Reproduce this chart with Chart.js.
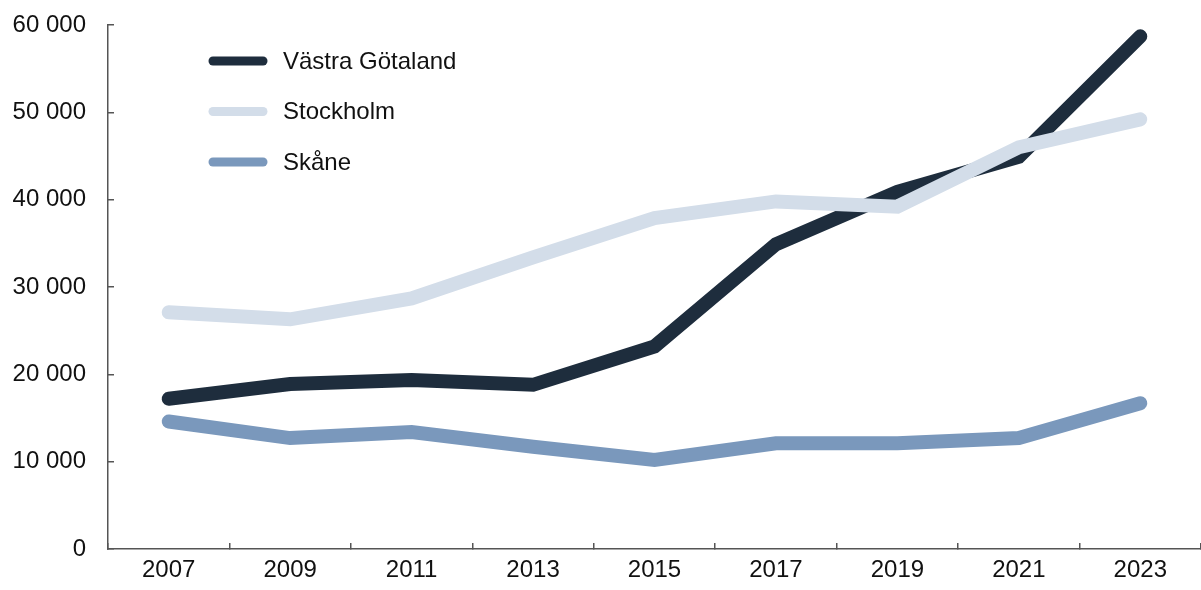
<!DOCTYPE html>
<html>
<head>
<meta charset="utf-8">
<script src="https://cdn.jsdelivr.net/npm/chart.js@4/dist/chart.umd.min.js"></script>
<style>
  html, body { margin: 0; padding: 0; background: #fff; }
  #wrap { width: 1201px; height: 590px; }
</style>
</head>
<body>
<div id="wrap"><canvas id="chart" width="1201" height="590"></canvas></div>
<script>
const years = ['2007', '2009', '2011', '2013', '2015', '2017', '2019', '2021', '2023'];
const vastraGotaland = [17200, 18900, 19350, 18800, 23200, 34900, 40900, 44900, 58700];
const stockholm = [27100, 26300, 28700, 33400, 37900, 39800, 39200, 46000, 49200];
const skane = [14600, 12700, 13400, 11700, 10200, 12100, 12100, 12700, 16700];

const FONT = { family: '"Liberation Sans", Arial, sans-serif', size: 24 };
const AXIS_COLOR = '#555';

function spaced(v) {
  return String(v).replace(/\B(?=(\d{3})+(?!\d))/g, ' ');
}

// legend drawn as a vertical list inside the plot area
const sideLegend = {
  id: 'sideLegend',
  afterDatasetsDraw(chart) {
    const ctx = chart.ctx;
    ctx.save();
    chart.data.datasets.forEach((ds, i) => {
      const y = 61 + i * 50.5;
      ctx.strokeStyle = ds.borderColor;
      ctx.lineWidth = 9;
      ctx.lineCap = 'round';
      ctx.beginPath();
      ctx.moveTo(213, y);
      ctx.lineTo(263, y);
      ctx.stroke();
      ctx.fillStyle = '#111';
      ctx.font = `${FONT.size}px ${FONT.family}`;
      ctx.textBaseline = 'middle';
      ctx.fillText(ds.label, 283, y + 1);
    });
    ctx.restore();
  }
};

const lineStyle = {
  borderWidth: 14,
  borderCapStyle: 'round',
  borderJoinStyle: 'miter',
  pointRadius: 0,
  tension: 0,
  fill: false
};

new Chart(document.getElementById('chart'), {
  type: 'line',
  data: {
    labels: years,
    datasets: [
      { label: 'Västra Götaland', data: vastraGotaland, borderColor: '#1e2d3d', order: 2, ...lineStyle },
      { label: 'Stockholm', data: stockholm, borderColor: '#d3dde9', order: 1, ...lineStyle },
      { label: 'Skåne', data: skane, borderColor: '#7a98bc', order: 0, ...lineStyle }
    ]
  },
  options: {
    responsive: false,
    animation: false,
    devicePixelRatio: 1,
    layout: { autoPadding: false, padding: { top: 25, right: 0, bottom: 0, left: 0 } },
    plugins: {
      legend: { display: false },
      tooltip: { enabled: false }
    },
    scales: {
      x: {
        offset: true,
        grid: {
          offset: true,
          drawOnChartArea: false,
          tickLength: -6,
          color: AXIS_COLOR,
          lineWidth: 1.5
        },
        border: { color: AXIS_COLOR, width: 1.5 },
        ticks: { color: '#111', font: FONT, padding: 13, maxRotation: 0, autoSkip: false },
        afterFit(scale) {
          scale.height = 41;
          scale.paddingLeft = 0;
          scale.paddingRight = 0;
        }
      },
      y: {
        min: 0,
        max: 60000,
        grid: {
          drawOnChartArea: false,
          tickLength: -6,
          color: AXIS_COLOR,
          lineWidth: 1.5
        },
        border: { color: AXIS_COLOR, width: 1.5 },
        ticks: {
          stepSize: 10000,
          color: '#111',
          font: FONT,
          padding: 28,
          callback: v => spaced(v)
        },
        afterFit(scale) {
          scale.width = 108;
          scale.paddingTop = 0;
          scale.paddingBottom = 0;
        }
      }
    }
  },
  plugins: [sideLegend]
});
</script>
</body>
</html>
